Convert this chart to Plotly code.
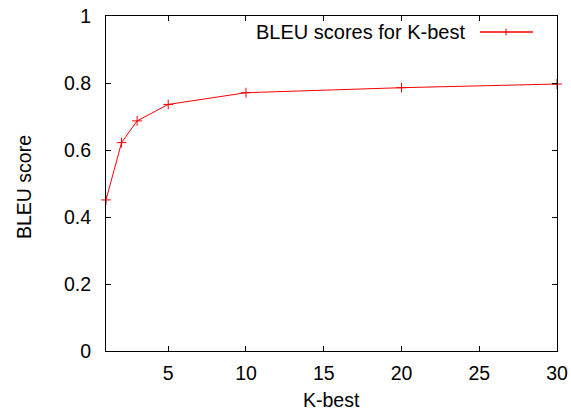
import plotly.graph_objects as go

k_values = [1, 2, 3, 5, 10, 20, 30]
bleu_scores = [0.451, 0.622, 0.687, 0.736, 0.771, 0.786, 0.797]
series_name = "BLEU scores for K-best"
x_title = "K-best"
y_title = "BLEU score"
x_ticks = [5, 10, 15, 20, 25, 30]
y_ticks = [0, 0.2, 0.4, 0.6, 0.8, 1]
y_tick_labels = ["0", "0.2", "0.4", "0.6", "0.8", "1"]

FONT = "Liberation Sans, Arial, Helvetica, sans-serif"
RED = "#ff0000"
FS = 19.5

fig = go.Figure()
fig.add_trace(go.Scatter(
    x=k_values, y=bleu_scores, mode="lines+markers", name=series_name,
    line=dict(color=RED, width=1),
    marker=dict(symbol="cross-thin", size=7, line=dict(color=RED, width=1), color=RED),
    showlegend=False, cliponaxis=False,
))

axis_common = dict(
    showgrid=False, zeroline=False, showline=True, linecolor="black", linewidth=1,
    mirror="ticks", ticks="inside", ticklen=5, tickcolor="black", tickwidth=1,
    tickfont=dict(family=FONT, size=FS, color="black"), automargin=False,
)

L, R, T, B = 106, 14, 16, 61
W, H = 571, 412
pw, ph = W - L - R, H - T - B

fig.update_layout(
    width=W, height=H,
    margin=dict(l=L, r=R, t=T, b=B),
    paper_bgcolor="white", plot_bgcolor="white",
    font=dict(family=FONT, size=FS, color="black"),
    xaxis=dict(range=[1, 30], tickvals=x_ticks, ticklabelstandoff=5, **axis_common),
    yaxis=dict(range=[0, 1], tickvals=y_ticks, ticktext=y_tick_labels, ticklabelstandoff=10,
               **axis_common),
)

# axis titles
fig.add_annotation(xref="paper", yref="paper", x=(331 - L) / pw, y=(H - B - 400) / ph,
                   text=x_title, showarrow=False, xanchor="center", yanchor="middle",
                   font=dict(family=FONT, size=FS, color="black"))
fig.add_annotation(xref="paper", yref="paper", x=(24 - L) / pw, y=(H - B - 187) / ph,
                   text=y_title, showarrow=False, textangle=-90, xanchor="center", yanchor="middle",
                   font=dict(family=FONT, size=FS, color="black"))

# legend drawn manually (gnuplot style: text on the left, sample on the right)
leg_y = (H - B - 32) / ph
fig.add_annotation(xref="paper", yref="paper", x=(467 - L) / pw, y=leg_y, text=series_name,
                   showarrow=False, xanchor="right", yanchor="middle",
                   font=dict(family=FONT, size=20, color="black"))
fig.add_shape(type="line", xref="paper", yref="paper", x0=(480 - L) / pw, x1=(533 - L) / pw,
              y0=leg_y, y1=leg_y, line=dict(color=RED, width=1.5))
fig.add_shape(type="line", xref="paper", yref="paper", x0=(506 - L) / pw, x1=(506 - L) / pw,
              y0=leg_y - 3.5 / ph, y1=leg_y + 3.5 / ph, line=dict(color=RED, width=1))

fig.write_html("out.html", config={"displayModeBar": False},
               post_script="document.body.style.margin='0';document.body.style.overflow='hidden';")
